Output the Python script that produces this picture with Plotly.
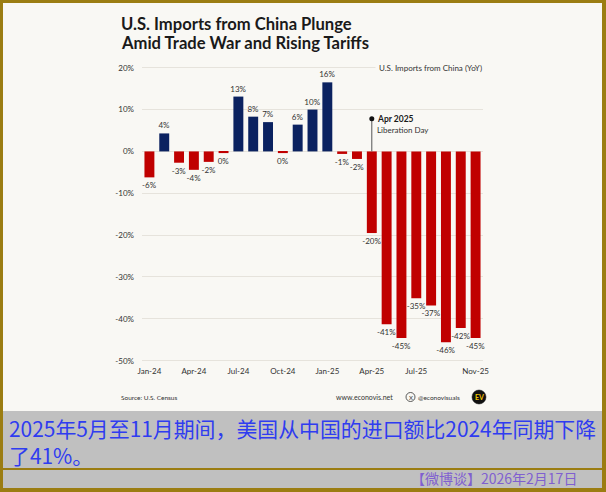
import plotly.graph_objects as go

# ---------------- data ----------------
months = ["Jan-24", "Feb-24", "Mar-24", "Apr-24", "May-24", "Jun-24", "Jul-24", "Aug-24",
          "Sep-24", "Oct-24", "Nov-24", "Dec-24", "Jan-25", "Feb-25", "Mar-25", "Apr-25",
          "May-25", "Jun-25", "Jul-25", "Aug-25", "Sep-25", "Oct-25", "Nov-25"]
yoy = [-6.2, 4.3, -2.7, -4.4, -2.5, -0.4, 13.1, 8.3, 7.0, -0.4, 6.4, 10.0, 16.5,
       -0.6, -1.8, -19.5, -41.3, -44.6, -35.1, -36.8, -45.6, -42.2, -44.6]
labels = ["-6%", "4%", "-3%", "-4%", "-2%", "0%", "13%", "8%", "7%", "0%", "6%", "10%", "16%",
          "-1%", "-2%", "-20%", "-41%", "-45%", "-35%", "-37%", "-46%", "-42%", "-45%"]
tick_months = ["Jan-24", "Apr-24", "Jul-24", "Oct-24", "Jan-25", "Apr-25", "Jul-25", "Nov-25"]
y_ticks = [20, 10, 0, -10, -20, -30, -40, -50]
y_ticktext = ["20%", "10%", "0%", "-10%", "-20%", "-30%", "-40%", "-50%"]
event_month = "Apr-25"
event_y = 7.8

# ---------------- style ----------------
W, H = 606, 492
L, R, T, B = 142, 123, 60, 130
PW, PH = W - L - R, H - T - B
BG = "#f9f8f4"
OLIVE = "#9b7d12"
GREY = "#c0c0c0"
NAVY = "#0b2260"
RED = "#c00000"
TXT = "#333333"
FONT = "Lato"


def px(x, y):
    return (x - L) / PW, (H - B - y) / PH


colors = [NAVY if v > 0 else RED for v in yoy]

fig = go.Figure()
fig.add_trace(go.Bar(
    x=months, y=yoy, marker=dict(color=colors, line=dict(width=0)),
    text=labels, textposition="outside", texttemplate="%{text}", constraintext="none",
    textfont=dict(family=FONT, size=8, color=TXT), cliponaxis=False,
    hoverinfo="skip"))

# event marker
fig.add_trace(go.Scatter(x=[event_month, event_month], y=[0, event_y], mode="lines",
                         line=dict(color="#555555", width=1), hoverinfo="skip"))
fig.add_trace(go.Scatter(x=[event_month], y=[event_y], mode="markers",
                         marker=dict(color="#111111", size=5), hoverinfo="skip"))

shapes = []


def rect(x0, y0, x1, y1, color):
    a0, b0 = px(x0, y1)
    a1, b1 = px(x1, y0)
    shapes.append(dict(type="rect", xref="paper", yref="paper", x0=a0, y0=b0, x1=a1, y1=b1,
                       fillcolor=color, line=dict(width=0), layer="below"))


rect(3, 411, 602, 488, GREY)
rect(3, 468, 602, 470, OLIVE)
rect(0, 0, W, 3, OLIVE)
rect(0, 0, 3, H, OLIVE)
rect(602, 0, W, H, OLIVE)
rect(0, 488, W, H, OLIVE)

# logos
def circle(cx, cy, r, fill, line_color, lw):
    a0, b0 = px(cx - r, cy + r)
    a1, b1 = px(cx + r, cy - r)
    shapes.append(dict(type="circle", xref="paper", yref="paper", x0=a0, y0=b0, x1=a1, y1=b1,
                       fillcolor=fill, line=dict(color=line_color, width=lw)))


circle(410.5, 397, 4.5, "rgba(0,0,0,0)", TXT, 0.8)
circle(479, 397, 7, "#111111", "#111111", 0.5)

annotations = []


def text(x, y, s, size, color=TXT, xanchor="left", family=FONT, bg=None, pad=1):
    a, b = px(x, y)
    d = dict(x=a, y=b, xref="paper", yref="paper", text=s, showarrow=False, align="left",
             xanchor=xanchor, yanchor="middle", font=dict(family=family, size=size, color=color),
             borderpad=pad)
    if bg:
        d["bgcolor"] = bg
    annotations.append(d)


text(119, 24, "<b>U.S. Imports from China Plunge</b>", 16.6, "#1a1a1a")
text(119, 43, "<b>Amid Trade War and Rising Tariffs</b>", 16.6, "#1a1a1a")
text(486, 67.7, "U.S. Imports from China (YoY)", 8, TXT, xanchor="right", bg=BG, pad=3)
text(375, 119.5, "<b>Apr 2025</b>", 8.5, "#1a1a1a")
text(375, 129.5, "Liberation Day", 8, TXT)
text(119, 397, "Source: U.S. Census", 6.5, TXT)
text(395, 397, "www.econovis.net", 7, TXT, xanchor="right")
text(410.5, 397, "X", 6, TXT, xanchor="center")
text(416, 397, "@econovisuals", 6.5, TXT)
text(479, 397, "<b>EV</b>", 7, "#f2c200", xanchor="center")
text(8, 441.5, "2025年5月至11月期间，美国从中国的进口额比2024年同期下降<br>了41%。", 20.9,
     "#2f3cf0", family="Noto Sans CJK SC", pad=0)
text(579, 478, "【微博谈】2026年2月17日", 14, "#8060d0", xanchor="right",
     family="Noto Sans CJK SC")

fig.update_layout(
    width=W, height=H, margin=dict(l=L, r=R, t=T, b=B, pad=0),
    paper_bgcolor=BG, plot_bgcolor="rgba(0,0,0,0)",
    showlegend=False, bargap=0.33,
    shapes=shapes, annotations=annotations,
    xaxis=dict(type="category", categoryorder="array", categoryarray=months,
               tickvals=tick_months, ticktext=tick_months, showgrid=False, zeroline=False,
               showline=False, ticks="", ticklabelstandoff=3,
               tickfont=dict(family=FONT, size=8, color=TXT),
               range=[-0.5, len(months) - 0.5], fixedrange=True),
    yaxis=dict(range=[-50.31, 21.84], tickvals=y_ticks, ticktext=y_ticktext,
               showgrid=True, gridcolor="#e6e3dc", gridwidth=1, zeroline=False,
               showline=False, ticks="", ticklabelstandoff=7,
               tickfont=dict(family=FONT, size=8, color=TXT), fixedrange=True),
)

fig.write_html("out.html")
